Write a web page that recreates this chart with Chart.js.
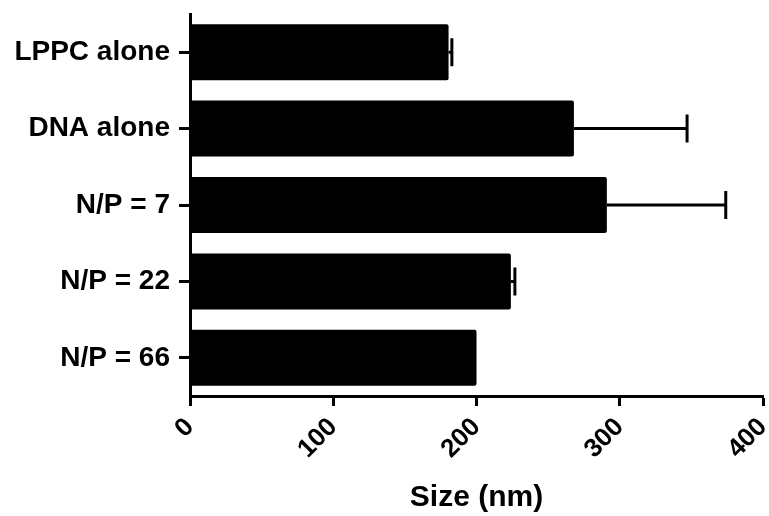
<!DOCTYPE html>
<html>
<head>
<meta charset="utf-8">
<script src="https://cdn.jsdelivr.net/npm/chart.js@4"></script>
<style>
  html, body { margin: 0; padding: 0; background: #fff; }
  #wrap { width: 769px; height: 516px; }
</style>
</head>
<body>
<div id="wrap"><canvas id="chart" width="769" height="516"></canvas></div>
<script>
const groups = ["LPPC alone", "DNA alone", "N/P = 7", "N/P = 22", "N/P = 66"];
const sizeMean = [180.5, 268, 291, 224, 200];
const sizeErr = [2.3, 79, 83, 2.8, 0];
const xTicks = [0, 100, 200, 300, 400];

const fontFam = '"Liberation Sans", Arial, Helvetica, sans-serif';

// draws the upper half of the error bars (line + cap)
const errorBars = {
  id: "errorBars",
  afterDatasetsDraw(chart) {
    const c = chart.ctx;
    const xs = chart.scales.x;
    const ys = chart.scales.y;
    c.save();
    c.strokeStyle = "#000";
    c.lineWidth = 3;
    sizeMean.forEach((v, i) => {
      if (!sizeErr[i]) return;
      const x0 = xs.getPixelForValue(v);
      const x1 = xs.getPixelForValue(v + sizeErr[i]);
      const y = ys.getPixelForValue(i);
      c.beginPath();
      c.moveTo(x0, y);
      c.lineTo(x1, y);
      c.moveTo(x1, y - 14);
      c.lineTo(x1, y + 14);
      c.stroke();
    });
    c.restore();
  },
};

const ctx = document.getElementById("chart");
new Chart(ctx, {
  type: "bar",
  data: {
    labels: groups,
    datasets: [
      {
        data: sizeMean,
        backgroundColor: "#000",
        borderWidth: 0,
        borderRadius: 2,
        barPercentage: 0.733,
        categoryPercentage: 1,
      },
    ],
  },
  options: {
    indexAxis: "y",
    responsive: false,
    animation: false,
    events: [],
    layout: { padding: { top: 14, right: 6, left: 0, bottom: 0 } },
    plugins: {
      legend: { display: false },
      tooltip: { enabled: false },
    },
    scales: {
      x: {
        min: 0,
        max: 400,
        afterBuildTicks: (scale) => {
          scale.ticks = xTicks.map((v) => ({ value: v }));
        },
        afterFit: (scale) => {
          scale.height = 120;
          scale.paddingLeft = 0;
          scale.paddingRight = 0;
        },
        border: { display: true, color: "#000", width: 3 },
        grid: {
          drawOnChartArea: false,
          drawTicks: true,
          tickLength: 10,
          tickWidth: 3,
          tickColor: "#000",
        },
        ticks: {
          color: "#000",
          font: { family: fontFam, size: 26, weight: "bold" },
          minRotation: 45,
          maxRotation: 45,
          padding: 6,
        },
        title: {
          display: true,
          text: "Size (nm)",
          color: "#000",
          font: { family: fontFam, size: 30, weight: "bold" },
          padding: { top: 0, bottom: 0 },
        },
      },
      y: {
        afterFit: (scale) => {
          scale.width = 190;
          scale.paddingTop = 0;
          scale.paddingBottom = 0;
        },
        border: { display: true, color: "#000", width: 3 },
        grid: {
          offset: false,
          drawOnChartArea: false,
          drawTicks: true,
          tickLength: 11,
          tickWidth: 3,
          tickColor: "#000",
        },
        ticks: {
          color: "#000",
          font: { family: fontFam, size: 28, weight: "bold" },
          padding: 9,
        },
      },
    },
  },
  plugins: [errorBars],
});
</script>
</body>
</html>
